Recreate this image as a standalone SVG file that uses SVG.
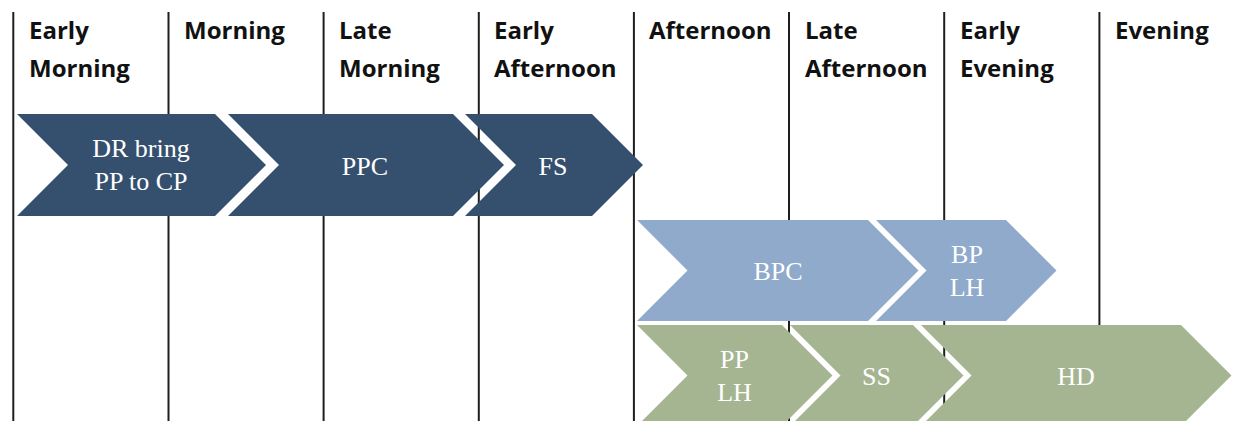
<svg xmlns="http://www.w3.org/2000/svg" width="1251" height="421" viewBox="0 0 1251 421">
  <style>
    .bg { fill: #ffffff; }
    .divider { stroke: #1e1e1e; stroke-width: 2; fill: none; }
    .hdr { font-family: "Open Sans", "Liberation Sans", sans-serif; font-weight: 700; font-size: 24px; fill: #111111; }
    .lbl { font-family: "Liberation Serif", "DejaVu Serif", serif; font-size: 26px; fill: #ffffff; text-anchor: middle; }
    .dark { fill: #35506F; }
    .blue { fill: #8FAACB; }
    .green { fill: #A5B592; }
  </style>
  <rect class="bg" x="0" y="0" width="1251" height="421"/>

  <!-- column dividers -->
  <g id="dividers">
    <line class="divider" x1="13.3" y1="12" x2="13.3" y2="421"/>
    <line class="divider" x1="168.5" y1="12" x2="168.5" y2="421"/>
    <line class="divider" x1="323.6" y1="12" x2="323.6" y2="421"/>
    <line class="divider" x1="478.8" y1="12" x2="478.8" y2="421"/>
    <line class="divider" x1="633.9" y1="12" x2="633.9" y2="421"/>
    <line class="divider" x1="789" y1="12" x2="789" y2="421"/>
    <line class="divider" x1="944.2" y1="12" x2="944.2" y2="421"/>
    <line class="divider" x1="1099.4" y1="12" x2="1099.4" y2="421"/>
  </g>

  <!-- column headings -->
  <g id="headings">
    <text class="hdr" x="29" y="39">Early</text>
    <text class="hdr" x="29" y="77">Morning</text>
    <text class="hdr" x="184" y="39">Morning</text>
    <text class="hdr" x="339" y="39">Late</text>
    <text class="hdr" x="339" y="77">Morning</text>
    <text class="hdr" x="494" y="39">Early</text>
    <text class="hdr" x="494" y="77">Afternoon</text>
    <text class="hdr" x="649" y="39">Afternoon</text>
    <text class="hdr" x="805" y="39">Late</text>
    <text class="hdr" x="805" y="77">Afternoon</text>
    <text class="hdr" x="960" y="39">Early</text>
    <text class="hdr" x="960" y="77">Evening</text>
    <text class="hdr" x="1115" y="39">Evening</text>
  </g>

  <!-- row 1 -->
  <g id="dr-bring">
    <polygon class="dark" points="17,114 215,114 266,165 215,216 17,216 68,165"/>
    <text class="lbl" x="141" y="157">DR bring</text>
    <text class="lbl" x="141" y="190">PP to CP</text>
  </g>
  <g id="ppc">
    <polygon class="dark" points="228,114 453,114 504,165 453,216 228,216 279,165"/>
    <text class="lbl" x="365" y="175">PPC</text>
  </g>
  <g id="fs">
    <polygon class="dark" points="465,114 592,114 643,165 592,216 465,216 516,165"/>
    <text class="lbl" x="553" y="175">FS</text>
  </g>

  <!-- row 2 -->
  <g id="bpc">
    <polygon class="blue" points="637,220 868,220 918.5,270.5 868,321 637,321 687.5,270.5"/>
    <text class="lbl" x="778" y="280">BPC</text>
  </g>
  <g id="bp-lh">
    <polygon class="blue" points="876,220 1006,220 1056.5,270.5 1006,321 876,321 926.5,270.5"/>
    <text class="lbl" x="967" y="262.5">BP</text>
    <text class="lbl" x="967" y="295.5">LH</text>
  </g>

  <!-- row 3 -->
  <g id="pp-lh">
    <polygon class="green" points="637,325 782,325 832.5,375.5 782,426 637,426 687.5,375.5"/>
    <text class="lbl" x="734.5" y="367.5">PP</text>
    <text class="lbl" x="734.5" y="400.5">LH</text>
  </g>
  <g id="ss">
    <polygon class="green" points="790,325 913,325 963.5,375.5 913,426 790,426 840.5,375.5"/>
    <text class="lbl" x="876.5" y="385">SS</text>
  </g>
  <g id="hd">
    <polygon class="green" points="921,325 1181,325 1231.5,375.5 1181,426 921,426 971.5,375.5"/>
    <text class="lbl" x="1076" y="385">HD</text>
  </g>

  <g id="connectors"></g>
</svg>
